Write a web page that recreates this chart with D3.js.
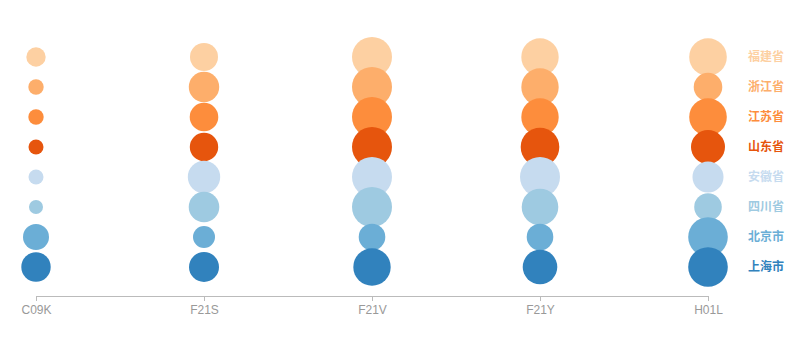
<!DOCTYPE html>
<html><head><meta charset="utf-8">
<script src="https://cdn.jsdelivr.net/npm/d3@7"></script>
<style>
body{margin:0;background:#fff;}
svg{display:block;}
</style></head>
<body>
<svg id="chart" width="802" height="340"></svg>
<script>
const categories = ["C09K", "F21S", "F21V", "F21Y", "H01L"];
const provinces = ["福建省", "浙江省", "江苏省", "山东省", "安徽省", "四川省", "北京市", "上海市"];
const colors = ["#fdd0a2", "#fdae6b", "#fd8d3c", "#e6550d", "#c6dbef", "#9ecae1", "#6baed6", "#3182bd"];
const fujian   = [235, 490, 1000, 874, 884];
const zhejiang = [148, 578, 1000, 874, 511];
const jiangsu  = [148, 511, 1000, 874, 884];
const shandong = [141, 504, 1000, 931, 723];
const anhui    = [141, 656, 1000, 1000, 601];
const sichuan  = [123, 585, 1000, 837, 476];
const beijing  = [423, 303, 442, 442, 980];
const shanghai = [540, 563, 874, 748, 980];
const series = [fujian, zhejiang, jiangsu, shandong, anhui, sichuan, beijing, shanghai];

const svg = d3.select("#chart");
const x = d3.scalePoint().domain(categories).range([36, 708]);
const y = d3.scalePoint().domain(provinces).range([57, 267]);
const r = d3.scaleSqrt().domain([0, 1000]).range([0, 20]);
const color = d3.scaleOrdinal().domain(provinces).range(colors);

const axis = svg.append("g").attr("transform", "translate(0,296)")
  .call(d3.axisBottom(x).tickSizeOuter(0).tickSizeInner(5).tickPadding(4));
axis.select(".domain").attr("stroke", "#bbb");
axis.selectAll(".tick line").attr("stroke", "#bbb");
axis.selectAll(".tick text").attr("fill", "#999").attr("font-size", 12)
  .attr("font-family", "Liberation Sans, Arial, sans-serif");

provinces.forEach((p, i) => {
  svg.append("g").selectAll("circle").data(series[i]).join("circle")
    .attr("cx", (d, j) => x(categories[j]))
    .attr("cy", y(p))
    .attr("r", d => r(d))
    .attr("fill", color(p));
});

svg.append("g").selectAll("text").data(provinces).join("text")
  .attr("x", 748).attr("y", d => y(d)).attr("dy", "0.35em")
  .attr("fill", d => color(d))
  .attr("font-size", 12).attr("font-weight", "bold")
  .attr("font-family", "Noto Sans CJK SC, sans-serif")
  .text(d => d);
</script>
</body></html>
